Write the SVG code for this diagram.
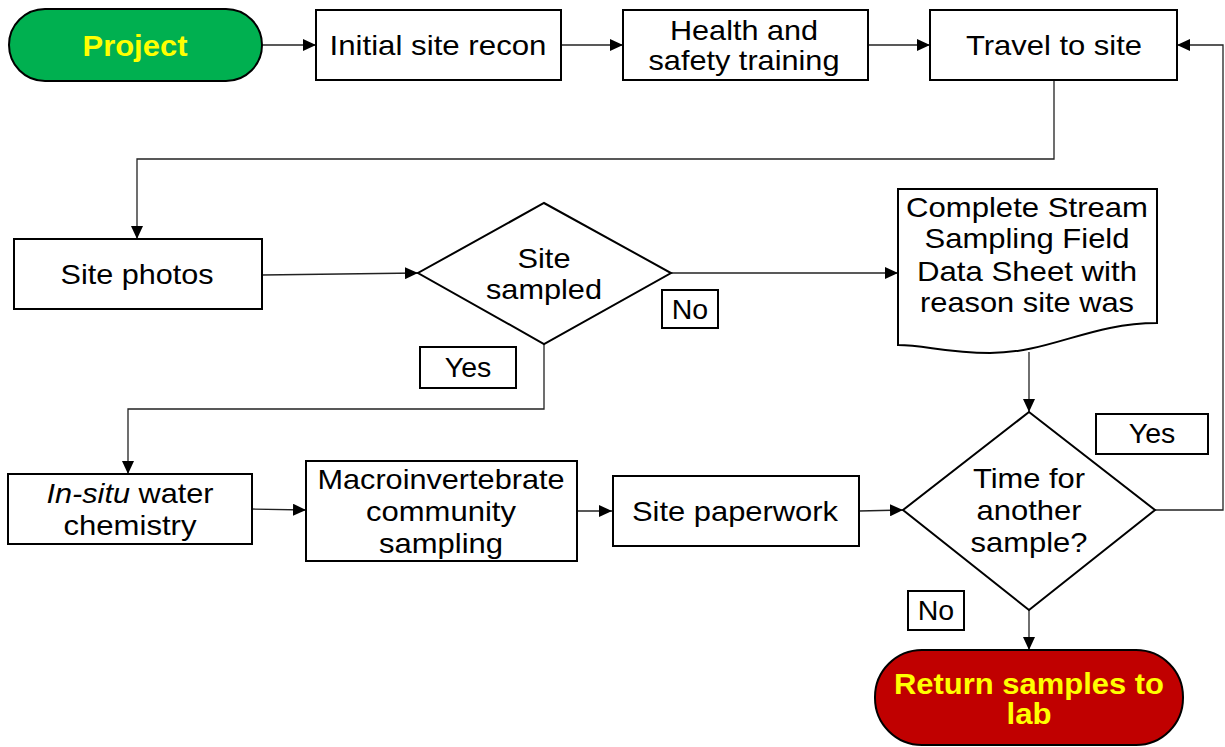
<svg xmlns="http://www.w3.org/2000/svg" width="1225" height="747" viewBox="0 0 1225 747">
<defs>
<marker id="ah" viewBox="0 0 13 12" refX="13" refY="6" markerWidth="13" markerHeight="12" markerUnits="userSpaceOnUse" orient="auto">
<path d="M0,0 L13,6 L0,12 Z" fill="#000"/>
</marker>
<style>
.n{fill:#fff;stroke:#000;stroke-width:2}
.lb{fill:#fff;stroke:#000;stroke-width:2}
.t{font-family:"Liberation Sans",Arial,sans-serif;font-size:28.5px;fill:#000;text-anchor:middle}
.tl{font-family:"Liberation Sans",Arial,sans-serif;font-size:28.5px;fill:#000;text-anchor:middle}
.tb{font-family:"Liberation Sans",Arial,sans-serif;font-size:29px;font-weight:bold;fill:#FFFF00;text-anchor:middle}
.c{fill:none;stroke:#222;stroke-width:1.3;marker-end:url(#ah)}
</style>
</defs>
<rect width="1225" height="747" fill="#fff"/>
<g id="connectors">
<path class="c" d="M262,45 H316"/>
<path class="c" d="M561,45 H623"/>
<path class="c" d="M868,45 H930"/>
<path class="c" d="M1054,80 V159 H137 V239"/>
<path class="c" d="M262,275 L418,273"/>
<path class="c" d="M671,273 H898"/>
<path class="c" d="M544,344 V409 H128 V474"/>
<path class="c" d="M1029,352 V412"/>
<path class="c" d="M1155,510 H1223 V45 H1177"/>
<path class="c" d="M252,509 L306,510"/>
<path class="c" d="M577,511 H612"/>
<path class="c" d="M859,511 L903,510"/>
<path class="c" d="M1029,610 V650"/>
</g>
<g id="project">
<rect x="9" y="9" width="253" height="72" rx="36" ry="36" fill="#00B050" stroke="#000" stroke-width="2"/>
<text class="tb" x="135" y="56" textLength="105" lengthAdjust="spacingAndGlyphs">Project</text>
</g>
<g id="recon">
<rect class="n" x="316" y="10" width="245" height="70"/>
<text class="t" x="438" y="55" textLength="217" lengthAdjust="spacingAndGlyphs">Initial site recon</text>
</g>
<g id="training">
<rect class="n" x="623" y="10" width="245" height="70"/>
<text class="t" x="744" y="40" textLength="148" lengthAdjust="spacingAndGlyphs">Health and</text>
<text class="t" x="744" y="70" textLength="191" lengthAdjust="spacingAndGlyphs">safety training</text>
</g>
<g id="travel">
<rect class="n" x="930" y="10" width="247" height="70"/>
<text class="t" x="1054" y="55" textLength="176" lengthAdjust="spacingAndGlyphs">Travel to site</text>
</g>
<g id="photos">
<rect class="n" x="14" y="239" width="248" height="70"/>
<text class="t" x="137" y="284" textLength="153" lengthAdjust="spacingAndGlyphs">Site photos</text>
</g>
<g id="sampled">
<polygon class="n" points="544,203 671,273 544,344 418,273"/>
<text class="t" x="544" y="268" textLength="53" lengthAdjust="spacingAndGlyphs">Site</text>
<text class="t" x="544" y="299" textLength="116" lengthAdjust="spacingAndGlyphs">sampled</text>
</g>
<g id="label-no1">
<rect class="lb" x="662" y="290" width="56" height="38"/>
<text class="tl" x="690" y="319">No</text>
</g>
<g id="label-yes1">
<rect class="lb" x="420" y="347" width="96" height="41"/>
<text class="tl" x="468" y="377">Yes</text>
</g>
<g id="datasheet">
<path class="n" d="M898,189 H1157 V323 C1090,323 1050,353 990,353 C945,353 925,345 898,345 Z"/>
<text class="t" x="1027" y="217" textLength="242" lengthAdjust="spacingAndGlyphs">Complete Stream</text>
<text class="t" x="1027" y="248" textLength="205" lengthAdjust="spacingAndGlyphs">Sampling Field</text>
<text class="t" x="1027" y="281" textLength="220" lengthAdjust="spacingAndGlyphs">Data Sheet with</text>
<text class="t" x="1027" y="312" textLength="214" lengthAdjust="spacingAndGlyphs">reason site was</text>
</g>
<g id="insitu">
<rect class="n" x="8" y="474" width="244" height="70"/>
<text class="t" x="130" y="503" textLength="167" lengthAdjust="spacingAndGlyphs"><tspan font-style="italic">In-situ</tspan> water</text>
<text class="t" x="130" y="535" textLength="133" lengthAdjust="spacingAndGlyphs">chemistry</text>
</g>
<g id="macro">
<rect class="n" x="306" y="461" width="271" height="100"/>
<text class="t" x="441" y="489" textLength="247" lengthAdjust="spacingAndGlyphs">Macroinvertebrate</text>
<text class="t" x="441" y="521" textLength="150" lengthAdjust="spacingAndGlyphs">community</text>
<text class="t" x="441" y="553" textLength="124" lengthAdjust="spacingAndGlyphs">sampling</text>
</g>
<g id="paperwork">
<rect class="n" x="613" y="476" width="246" height="70"/>
<text class="t" x="735" y="521" textLength="206" lengthAdjust="spacingAndGlyphs">Site paperwork</text>
</g>
<g id="another">
<polygon class="n" points="1029,412 1155,510 1029,610 903,510"/>
<text class="t" x="1029" y="488" textLength="112" lengthAdjust="spacingAndGlyphs">Time for</text>
<text class="t" x="1029" y="520" textLength="105" lengthAdjust="spacingAndGlyphs">another</text>
<text class="t" x="1029" y="552" textLength="117" lengthAdjust="spacingAndGlyphs">sample?</text>
</g>
<g id="label-yes2">
<rect class="lb" x="1096" y="414" width="112" height="40"/>
<text class="tl" x="1152" y="443">Yes</text>
</g>
<g id="label-no2">
<rect class="lb" x="908" y="591" width="56" height="39"/>
<text class="tl" x="936" y="620">No</text>
</g>
<g id="return">
<rect x="875" y="650" width="308" height="95" rx="47" ry="47" fill="#C00000" stroke="#000" stroke-width="2"/>
<text class="tb" x="1029" y="694" textLength="270" lengthAdjust="spacingAndGlyphs">Return samples to</text>
<text class="tb" x="1029" y="724" textLength="45" lengthAdjust="spacingAndGlyphs">lab</text>
</g>
</svg>
